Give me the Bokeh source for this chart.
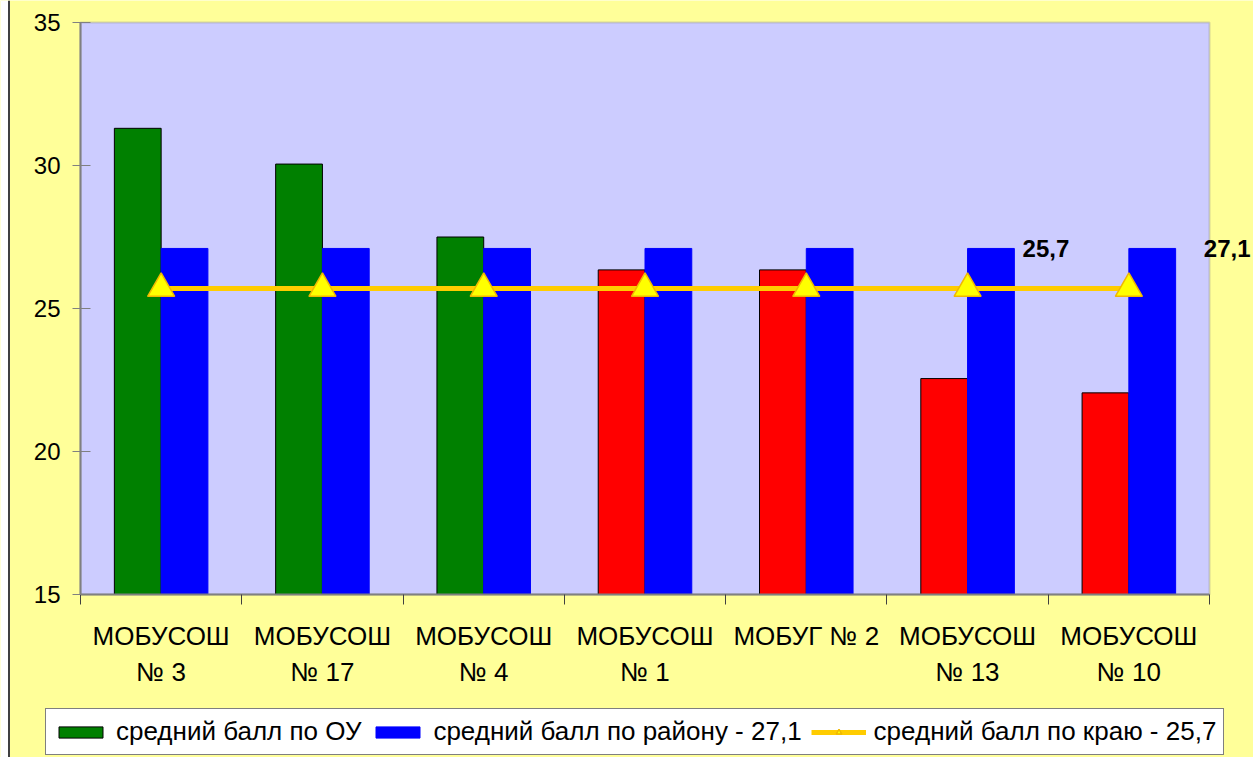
import numpy as np
from bokeh.plotting import figure
from bokeh.models import (FixedTicker, Legend, LegendItem, Label, Range1d,
                          BoxAnnotation, Span)
from bokeh.embed import file_html
from bokeh.resources import INLINE

# ---- data ----
schools = ["МОБУСОШ\n№ 3", "МОБУСОШ\n№ 17", "МОБУСОШ\n№ 4", "МОБУСОШ\n№ 1",
           "МОБУГ № 2", "МОБУСОШ\n№ 13", "МОБУСОШ\n№ 10"]
ou_scores = [31.3, 30.05, 27.5, 26.35, 26.35, 22.55, 22.05]
rayon_scores = [27.1, 27.1, 27.1, 27.1, 27.1, 27.1, 27.1]
krai_scores = [25.7, 25.7, 25.7, 25.7, 25.7, 25.7, 25.7]
y_ticks = [15, 20, 25, 30, 35]
series_names = ["средний балл по ОУ", "средний балл по району - 27,1",
                "средний балл по краю - 25,7"]

FONT = "Liberation Sans"
W, H = 1253, 757
LEFT, TOP, BOTTOM = 80, 22, 163       # px around the lavender plot area
PLOT_W, PLOT_H = 1129, 572            # lavender plot area size in px
n = len(schools)
centers = np.arange(n) + 0.5
bw = 0.29
ou_colors = ["#008000" if o >= r else "#FF0000" for o, r in zip(ou_scores, rayon_scores)]

y0, y1 = y_ticks[0], y_ticks[-1]
ux = PLOT_W / n
uy = PLOT_H / (y1 - y0)
x_range = Range1d(-LEFT / ux, (W - LEFT) / ux)
y_range = Range1d(y0 - BOTTOM / uy, y1 + TOP / uy)

p = figure(width=W, height=H, output_backend="svg", toolbar_location=None,
           x_range=x_range, y_range=y_range,
           min_border_left=0, min_border_right=0, min_border_top=0,
           min_border_bottom=0)
p.background_fill_color = "#FFFF99"
p.border_fill_color = "#FFFF99"
p.outline_line_color = None
p.xgrid.visible = False
p.ygrid.visible = False

# page strip + chart border at left
p.add_layout(Span(location=4, location_units="screen", dimension="height",
                  line_color="white", line_width=8, level="underlay"))
p.add_layout(Span(location=8.5, location_units="screen", dimension="height",
                  line_color="#404040", line_width=2, level="underlay"))

# lavender plot area
p.add_layout(BoxAnnotation(left=0, right=n, bottom=y0, top=y1,
                           fill_color="#CCCCFF", fill_alpha=1,
                           line_color="#808080", line_width=2, level="underlay"))

r_ou = p.vbar(x=centers - bw / 2, top=ou_scores, bottom=y0, width=bw,
              fill_color=ou_colors, line_color="black", line_width=1)
r_ray = p.vbar(x=centers + bw / 2, top=rayon_scores, bottom=y0, width=bw,
               fill_color="#0000FF", line_color="#0000FF", line_width=1)
r_line = p.line(centers, krai_scores, line_color="#FFCC00", line_width=5)
r_tri = p.scatter(centers, krai_scores, marker="triangle", size=27,
                  fill_color="#FFFF00", line_color="#F0B800", line_width=1.5)

# y axis
ya = p.yaxis[0]
ya.fixed_location = 0
ya.bounds = (y0, y1)
ya.ticker = FixedTicker(ticks=y_ticks, minor_ticks=[])
ya.axis_line_color = "#808080"
ya.axis_line_width = 2
ya.major_tick_line_color = "#808080"
ya.major_tick_out = 8
ya.major_tick_in = 10
ya.major_label_standoff = 12
ya.major_label_text_font = FONT
ya.major_label_text_font_size = "24px"
ya.major_label_text_color = "black"

# x axis: labels at centers, ticks at boundaries
xa = p.xaxis[0]
xa.fixed_location = y0
xa.bounds = (0, n)
xa.ticker = FixedTicker(ticks=list(centers), minor_ticks=list(range(n + 1)))
xa.major_label_overrides = {float(c): s for c, s in zip(centers, schools)}
xa.axis_line_color = "#808080"
xa.axis_line_width = 2
xa.major_tick_line_color = None
xa.major_tick_out = 0
xa.major_tick_in = 0
xa.minor_tick_line_color = "#404040"
xa.minor_tick_out = 10
xa.minor_tick_in = 0
xa.major_label_standoff = 16
xa.major_label_text_font = FONT
xa.major_label_text_font_size = "26px"
xa.major_label_text_color = "black"

# data labels
p.add_layout(Label(x=centers[5], y=rayon_scores[5], x_offset=55,
                   text="25,7", text_font=FONT, text_font_size="24px",
                   text_color="black",
                   text_font_style="bold", text_baseline="middle"))
p.add_layout(Label(x=centers[6], y=rayon_scores[6], x_offset=75,
                   text="27,1", text_font=FONT, text_font_size="24px",
                   text_color="black",
                   text_font_style="bold", text_baseline="middle"))

legend = Legend(items=[
    LegendItem(label=series_names[0], renderers=[r_ou], index=0),
    LegendItem(label=series_names[1], renderers=[r_ray], index=0),
    LegendItem(label=series_names[2], renderers=[r_line, r_tri]),
], orientation="horizontal", location=(45, 2))
legend.margin = 0
legend.label_text_font = FONT
legend.label_text_font_size = "26px"
legend.label_text_color = "black"
legend.glyph_width = 55
legend.glyph_height = 14
legend.label_standoff = 8
legend.spacing = 9
legend.padding = 7
legend.border_line_color = "black"
legend.border_line_width = 1
legend.background_fill_color = "white"
legend.background_fill_alpha = 1
p.add_layout(legend, "center")

open("out.html", "w").write(file_html(p, INLINE))
